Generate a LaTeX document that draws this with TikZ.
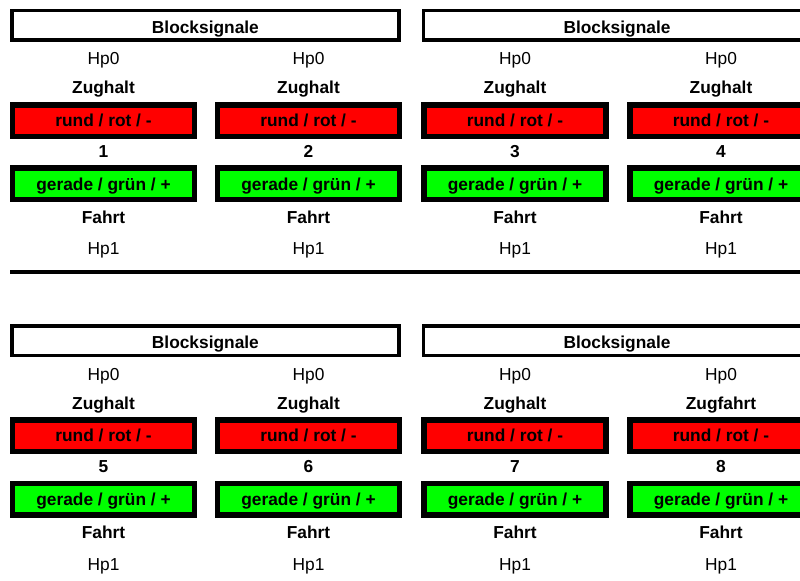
\documentclass[tikz,border=0pt]{standalone}
\usepackage{fontspec}
\setmainfont{Liberation Sans}
\definecolor{sigred}{RGB}{255,0,0}
\definecolor{siggreen}{RGB}{0,255,0}
\newcommand\sigfont{\fontsize{13}{15}\selectfont}
\begin{document}
\begin{tikzpicture}[x=0.75pt,y=-0.75pt,
  lamp/.style={draw=black, line width=4.125pt, minimum width=136.5pt,
    minimum height=23.625pt, inner sep=0pt, text height=9.3pt, text depth=0pt,
    font=\sigfont\bfseries},
  redlamp/.style={lamp, fill=sigred},
  greenlamp/.style={lamp, fill=siggreen},
  header/.style={draw=black, line width=2.625pt, minimum width=290.4pt,
    minimum height=22.125pt, inner sep=0pt, text height=11.7pt, text depth=0pt,
    font=\sigfont\bfseries},
  lbl/.style={anchor=base, inner sep=0pt, font=\sigfont},
  blbl/.style={anchor=base, inner sep=0pt, font=\sigfont\bfseries}]
\useasboundingbox (0,0) rectangle (800,581);
\clip (0,0) rectangle (800,581);

% block signal headers, two per section
\foreach \hx/\dy/\id in {205.4/0/1, 617/0/2, 205.4/315/3, 617/315/4}
  \node[header] (block-\id) at (\hx, 25.5+\dy) {Blocksignale};

% one signal column: aspects, lamps and number
\foreach \cx/\dy/\num/\halt in {103.5/0/1/Zughalt, 308.5/0/2/Zughalt,
    515/0/3/Zughalt, 721/0/4/Zughalt, 103.5/315/5/Zughalt, 308.5/315/6/Zughalt,
    515/315/7/Zughalt, 721/315/8/Zugfahrt}
{
  \node[lbl] (hp0-\num) at (\cx, 65+\dy) {Hp0};
  \node[blbl] (halt-\num) at (\cx, 94+\dy) {\halt};
  \node[redlamp] (red-\num) at (\cx, 120.7+\dy) {rund / rot / -};
  \node[blbl] (num-\num) at (\cx, 157.3+\dy) {\num};
  \node[greenlamp] (green-\num) at (\cx, 184+\dy) {gerade / grün / +};
  \node[blbl] (fahrt-\num) at (\cx, 223.3+\dy) {Fahrt};
  \node[lbl] (hp1-\num) at (\cx, 255+\dy) {Hp1};
}

% separator between the two sections
\draw[line width=3pt] (10,272) -- (810,272);
\end{tikzpicture}
\end{document}
